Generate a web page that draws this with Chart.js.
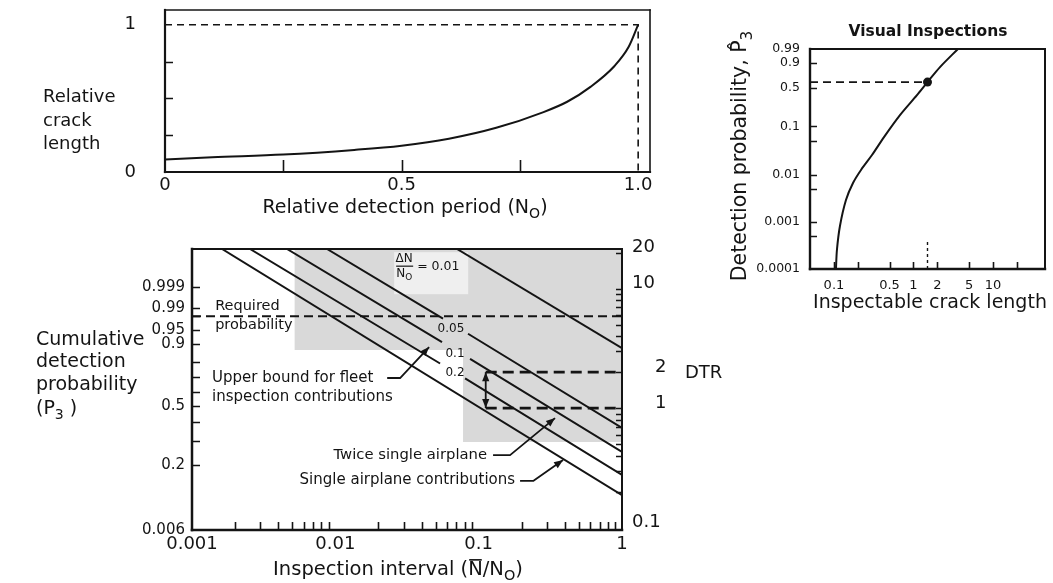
<!DOCTYPE html>
<html>
<head>
<meta charset="utf-8">
<script src="https://cdn.jsdelivr.net/npm/chart.js@4.4.1/dist/chart.umd.min.js"></script>
<style>
  html, body { margin: 0; padding: 0; background: #fff; }
  #wrap { position: relative; width: 1053px; height: 583px; overflow: hidden; background: #fff; }
  #wrap canvas { position: absolute; left: 0; top: 0; }
</style>
</head>
<body>
<div id="wrap">
  <canvas id="crack" width="1053" height="583"></canvas>
  <canvas id="visual" width="1053" height="583"></canvas>
  <canvas id="cumulative" width="1053" height="583"></canvas>
</div>
<script>
// ---------------- relative crack growth ----------------
const periodX      = [0, 0.1, 0.25, 0.4, 0.5, 0.6, 0.7, 0.8, 0.85, 0.9, 0.95, 0.98, 1.0];
const crackLength  = [0.085, 0.10, 0.118, 0.15, 0.179, 0.226, 0.30, 0.407, 0.477, 0.58, 0.72, 0.85, 1.0];
const criticalPeriod = 1.0;
const criticalLength = 1.0;
const periodTicks      = [0, 0.5, 1.0];
const periodTickLabels = ['0', '0.5', '1.0'];
const periodMinor      = [0.25, 0.5, 0.75];
const lengthTicks      = [0, 1];
const lengthTickLabels = ['0', '1'];
const lengthMinor      = [0.25, 0.5, 0.75];

// ---------------- visual inspections ----------------
const crackSize = [0.106, 0.109, 0.119, 0.1416, 0.1736, 0.2188, 0.3008, 0.4257, 0.676, 1.106, 1.5, 2.153, 3.62];
const detectP   = [0.0001, 0.000253, 0.000815, 0.0029, 0.00664, 0.0125, 0.0257, 0.0607, 0.1673, 0.3848, 0.6, 0.851, 0.99];
const inspectableSize = 1.5;
const inspectableP    = 0.6;
const inspectableLowP = [0.0001, 0.0004];
const sizeTicks       = [0.1, 0.5, 1, 2, 5, 10];
const sizeTickLabels  = ['0.1', '0.5', '1', '2', '5', '10'];
const sizeMinor       = [0.1, 0.2, 0.5, 1, 2, 5, 10, 20];
const detectTicks      = [0.0001, 0.001, 0.01, 0.1, 0.5, 0.9, 0.99];
const detectTickLabels = ['0.0001', '0.001', '0.01', '0.1', '0.5', '0.9', '0.99'];
const detectMinor      = [0.0005, 0.001, 0.005, 0.01, 0.05, 0.1, 0.5, 0.9];

// ---------------- cumulative detection probability ----------------
// one entry per line: where it leaves the top edge, its value at N/N0 = 1,
// and the gap left for its ΔN/N0 label
const lineLabels = ['', '0.2', '0.1', '0.05', '0.01'];
const lineTopX   = [0.00162, 0.00254, 0.0046, 0.00875, 0.0706];
const lineEndP   = [0.117, 0.168, 0.249, 0.365, 0.880];
const gapFromX   = [null, 0.0538, 0.0555, 0.0564, null];
const gapFromP   = [null, 0.793, 0.9076, 0.9762, null];
const gapToX     = [null, 0.0804, 0.0871, 0.0843, null];
const gapToP     = [null, 0.693, 0.8214, 0.939, null];
const labelX     = [null, 0.0684, 0.0684, 0.0641, 0.027];
const labelP     = [null, 0.730, 0.849, 0.953, 0.999966];

const requiredP = 0.98;
const dtrLevels = [2, 1];
const dtrFromX  = 0.112;

const shadeX = [0.0052, 1, 1, 0.0778, 0.0778, 0.0052];
const P_TOP    = 0.9999994;
const P_BOTTOM = 0.0616;
const shadeP = [P_TOP, P_TOP, 0.293, 0.293, 0.870, 0.870];

const cumTicks      = [P_BOTTOM, 0.2, 0.5, 0.9, 0.95, 0.99, 0.999];
const cumTickLabels = ['0.006', '0.2', '0.5', '0.9', '0.95', '0.99', '0.999'];
const cumMinor      = [0.2, 0.3, 0.4, 0.5, 0.6, 0.7, 0.8, 0.9, 0.95, 0.98, 0.99, 0.999];
const intervalTicks      = [0.001, 0.01, 0.1, 1];
const intervalTickLabels = ['0.001', '0.01', '0.1', '1'];
const intervalMinor = [];
[0.001, 0.01, 0.1].forEach(d => [2, 3, 4, 5, 6, 7, 8, 9].forEach(k => intervalMinor.push(k * d)));
const dtrTicks      = [0.1, 1, 2, 10, 20];
const dtrTickLabels = ['0.1', '1', '2', '10', '20'];
const dtrMinor = [];
[0.1, 1].forEach(d => [2, 3, 4, 5, 6, 7, 8, 9].forEach(k => dtrMinor.push(k * d)));
dtrMinor.push(1, 10, 20);
const DTR_PER_HAZARD = 1.5;

// ---------------- helpers ----------------
const INK = '#141414';
const FONT = '"DejaVu Sans", "Liberation Sans", sans-serif';
Chart.defaults.font.family = FONT;
Chart.defaults.color = INK;

// Weibull probability paper: ln(-ln(1 - p))
const hz = p => Math.log(-Math.log(1 - p));
const dtrAxis = d => Math.log(d / DTR_PER_HAZARD);

function richText(ctx, segs, x, y, o) {
  const size = o.size || 16, bold = o.bold ? 'bold ' : '';
  const parts = segs.map(s => typeof s === 'string' ? { t: s } : s);
  const fontOf = p => bold + (p.sub ? size * 0.74 : size) + 'px ' + FONT;
  let total = 0;
  const w = parts.map(p => { ctx.font = fontOf(p); const m = ctx.measureText(p.t).width; total += m; return m; });
  ctx.save();
  ctx.translate(x, y);
  if (o.rotate) ctx.rotate(o.rotate);
  ctx.fillStyle = INK; ctx.strokeStyle = INK;
  ctx.textBaseline = 'middle'; ctx.textAlign = 'left';
  let cx = o.align === 'center' ? -total / 2 : o.align === 'right' ? -total : 0;
  parts.forEach((p, i) => {
    ctx.font = fontOf(p);
    ctx.fillText(p.t, cx, p.sub ? size * 0.32 : 0);
    if (p.over) {
      ctx.lineWidth = Math.max(1.2, size / 12);
      ctx.beginPath(); ctx.moveTo(cx + 1, -size * 0.52); ctx.lineTo(cx + w[i] - 1, -size * 0.52); ctx.stroke();
    }
    cx += w[i];
  });
  ctx.restore();
}

function arrowHead(ctx, tip, from) {
  const a = Math.atan2(tip[1] - from[1], tip[0] - from[0]);
  const L = 9, W = 3.6;
  ctx.beginPath();
  ctx.moveTo(tip[0], tip[1]);
  ctx.lineTo(tip[0] - L * Math.cos(a) + W * Math.sin(a), tip[1] - L * Math.sin(a) - W * Math.cos(a));
  ctx.lineTo(tip[0] - L * Math.cos(a) - W * Math.sin(a), tip[1] - L * Math.sin(a) + W * Math.cos(a));
  ctx.closePath(); ctx.fill();
}

// frame, inward tick marks, callouts and free text for one panel
function decor(spec) {
  const pos = (chart, it) => {
    if (it.px !== undefined) return [it.px, it.py];
    const sy = chart.scales[it.axis || 'y'];
    return [chart.scales.x.getPixelForValue(it.x) + (it.dx || 0), sy.getPixelForValue(it.y) + (it.dy || 0)];
  };
  return {
    id: 'decor',
    afterDatasetDraw(chart, args) {
      if (!spec.under || args.index !== spec.under.after) return;
      const ctx = chart.ctx;
      spec.under.boxes.forEach(b => {
        const [x, y] = pos(chart, b);
        ctx.fillStyle = b.color;
        ctx.fillRect(x + b.x0, y + b.y0, b.x1 - b.x0, b.y1 - b.y0);
      });
    },
    afterDatasetsDraw(chart) {
      const ctx = chart.ctx, a = chart.chartArea;
      ctx.save();
      ctx.strokeStyle = INK; ctx.fillStyle = INK; ctx.lineCap = 'butt';
      (spec.ticks || []).forEach(t => {
        const sc = chart.scales[t.scale];
        ctx.lineWidth = t.width || 1.6;
        ctx.beginPath();
        t.values.forEach(v => {
          const p = Math.round(sc.getPixelForValue(v)) + 0.5;
          if (t.side === 'bottom') { ctx.moveTo(p, a.bottom); ctx.lineTo(p, a.bottom - t.len); }
          if (t.side === 'left')   { ctx.moveTo(a.left, p); ctx.lineTo(a.left + t.len, p); }
          if (t.side === 'right')  { ctx.moveTo(a.right, p); ctx.lineTo(a.right - t.len, p); }
        });
        ctx.stroke();
      });
      const f = spec.frame;
      ctx.lineCap = 'square';
      const seg = (x1, y1, x2, y2, lw) => { ctx.lineWidth = lw; ctx.beginPath(); ctx.moveTo(x1, y1); ctx.lineTo(x2, y2); ctx.stroke(); };
      seg(a.left, a.top, a.right, a.top, f.top);
      seg(a.right, a.top, a.right, a.bottom, f.right);
      seg(a.left, a.bottom, a.right, a.bottom, f.bottom);
      seg(a.left, a.top, a.left, a.bottom, f.left);
      ctx.lineCap = 'butt'; ctx.lineJoin = 'round';
      (spec.arrows || []).forEach(ar => {
        const pts = ar.pts.map(p => pos(chart, { x: p[0], y: p[1], axis: ar.axis }));
        ctx.lineWidth = 1.8;
        ctx.beginPath(); ctx.moveTo(pts[0][0], pts[0][1]);
        for (let i = 1; i < pts.length; i++) ctx.lineTo(pts[i][0], pts[i][1]);
        ctx.stroke();
        const n = pts.length;
        arrowHead(ctx, pts[n - 1], pts[n - 2]);
        if (ar.both) arrowHead(ctx, pts[0], pts[1]);
      });
      ctx.restore();
    },
    afterDraw(chart) {
      const ctx = chart.ctx;
      (spec.texts || []).forEach(t => {
        const [x, y] = pos(chart, t);
        richText(ctx, t.segs, x, y, t);
      });
      if (spec.custom) spec.custom(chart, ctx, pos);
    }
  };
}

function fixedAxis(size, horizontal) {
  return s => {
    if (horizontal) s.height = size; else s.width = size;
    s.paddingLeft = 0; s.paddingRight = 0; s.paddingTop = 0; s.paddingBottom = 0;
  };
}
function setTicks(values) { return s => { s.ticks = values.map(v => ({ value: v })); }; }
const noGrid = { display: false, drawTicks: false };

const base = {
  responsive: false, animation: false, devicePixelRatio: 1, events: [],
  plugins: { legend: { display: false }, tooltip: { enabled: false } },
  elements: { point: { radius: 0 }, line: { borderColor: INK, borderWidth: 2, fill: false } }
};

// ---------------- panel 1: relative crack length ----------------
new Chart(document.getElementById('crack'), {
  type: 'line',
  data: {
    datasets: [
      { data: periodX.map((x, i) => ({ x, y: crackLength[i] })), borderColor: INK, borderWidth: 2, cubicInterpolationMode: 'monotone' },
      { data: [{ x: 0, y: criticalLength }, { x: criticalPeriod, y: criticalLength }, { x: criticalPeriod, y: 0 }],
        borderColor: INK, borderWidth: 1.6, borderDash: [7, 5] }
    ]
  },
  options: Object.assign({}, base, {
    layout: { padding: { left: 105, top: 10, right: 403, bottom: 371 } },
    scales: {
      x: { type: 'linear', min: 0, max: 1.025, grid: noGrid, border: { display: false },
           afterBuildTicks: setTicks(periodTicks), afterFit: fixedAxis(40, true),
           ticks: { autoSkip: false, maxRotation: 0, padding: 3, font: { size: 18 }, color: INK,
                    callback: (v, i) => periodTickLabels[i] } },
      y: { type: 'linear', min: 0, max: 1.1, grid: noGrid, border: { display: false },
           afterBuildTicks: setTicks(lengthTicks), afterFit: fixedAxis(60, false),
           ticks: { autoSkip: false, padding: 29, font: { size: 18 }, color: INK,
                    callback: (v, i) => lengthTickLabels[i] } }
    }
  }),
  plugins: [decor({
    frame: { left: 2.2, bottom: 2.2, top: 1.6, right: 1.6 },
    ticks: [
      { scale: 'x', side: 'bottom', values: periodMinor, len: 12 },
      { scale: 'y', side: 'left', values: lengthMinor, len: 8 }
    ],
    texts: [
      { px: 43, py: 97, segs: ['Relative'], size: 18 },
      { px: 43, py: 121, segs: ['crack'], size: 18 },
      { px: 43, py: 144, segs: ['length'], size: 18 },
      { px: 405, py: 208, segs: ['Relative detection period (N', { t: 'O', sub: true }, ')'], size: 19, align: 'center' }
    ]
  })]
});

// ---------------- panel 2: visual inspections ----------------
new Chart(document.getElementById('visual'), {
  type: 'line',
  data: {
    datasets: [
      { data: crackSize.map((x, i) => ({ x, y: hz(detectP[i]) })), borderColor: INK, borderWidth: 2, tension: 0.3 },
      { data: [{ x: 0.05, y: hz(inspectableP) }, { x: inspectableSize, y: hz(inspectableP) }],
        borderColor: INK, borderWidth: 1.6, borderDash: [8, 5] },
      { data: inspectableLowP.map(p => ({ x: inspectableSize, y: hz(p) })),
        borderColor: INK, borderWidth: 1.4, borderDash: [3, 3] },
      { data: [{ x: inspectableSize, y: hz(inspectableP) }], showLine: false,
        pointRadius: 4.5, pointBackgroundColor: INK, pointBorderColor: INK, pointBorderWidth: 0 }
    ]
  },
  options: Object.assign({}, base, {
    layout: { padding: { left: 750, top: 49, right: 8, bottom: 284 } },
    scales: {
      x: { type: 'logarithmic', min: 0.05, max: 45, grid: noGrid, border: { display: false },
           afterBuildTicks: setTicks(sizeTicks), afterFit: fixedAxis(30, true),
           ticks: { autoSkip: false, maxRotation: 0, padding: 9, font: { size: 13 }, color: INK,
                    callback: (v, i) => sizeTickLabels[i] } },
      y: { type: 'linear', min: hz(0.0001), max: hz(0.99), grid: noGrid, border: { display: false },
           afterBuildTicks: setTicks(detectTicks.map(hz)), afterFit: fixedAxis(60, false),
           ticks: { autoSkip: false, padding: 10, font: { size: 12.5 }, color: INK,
                    callback: (v, i) => detectTickLabels[i] } }
    }
  }),
  plugins: [decor({
    frame: { left: 2.4, bottom: 2.4, top: 2, right: 2 },
    ticks: [
      { scale: 'x', side: 'bottom', values: sizeMinor, len: 7 },
      { scale: 'y', side: 'left', values: detectMinor.map(hz), len: 7 }
    ],
    texts: [
      { px: 928, py: 32, segs: ['Visual Inspections'], size: 15.5, bold: true, align: 'center' },
      { px: 741, py: 156, segs: ['Detection probability, P\u0302', { t: '3', sub: true }], size: 20.5, align: 'center', rotate: -Math.PI / 2 },
      { px: 930, py: 303, segs: ['Inspectable crack length'], size: 19, align: 'center' }
    ]
  })]
});

// ---------------- panel 3: cumulative detection probability ----------------
const lineSets = lineTopX.map((x0, i) => {
  const pts = [{ x: x0, y: hz(P_TOP) }];
  if (gapFromX[i] !== null) {
    pts.push({ x: gapFromX[i], y: hz(gapFromP[i]) });
    pts.push({ x: gapToX[i], y: null });
    pts.push({ x: gapToX[i], y: hz(gapToP[i]) });
  }
  pts.push({ x: 1, y: hz(lineEndP[i]) });
  return { data: pts, borderColor: INK, borderWidth: 2, spanGaps: false };
});

// DTR labels 1 and 2 sit further out, beside the "DTR" caption
const dtrLabelIndent = ['', '\u2007\u2007', '\u2007\u2007', '', ''];

new Chart(document.getElementById('cumulative'), {
  type: 'line',
  data: {
    datasets: [
      { data: shadeX.map((x, i) => ({ x, y: hz(shadeP[i]) })), fill: 'shape', backgroundColor: '#d9d9d9',
        borderWidth: 0, borderColor: 'rgba(0,0,0,0)', order: 10 },
      ...lineSets,
      { data: [{ x: 0.001, y: hz(requiredP) }, { x: 1, y: hz(requiredP) }], borderColor: INK, borderWidth: 2, borderDash: [9, 5] },
      ...dtrLevels.map(d => ({ data: [{ x: dtrFromX, y: dtrAxis(d) }, { x: 1, y: dtrAxis(d) }], yAxisID: 'dtr',
        borderColor: INK, borderWidth: 2.6, borderDash: [11, 6] }))
    ]
  },
  options: Object.assign({}, base, {
    layout: { padding: { left: 132, top: 249, right: 371, bottom: 13 } },
    scales: {
      x: { type: 'logarithmic', min: 0.001, max: 1, grid: noGrid, border: { display: false },
           afterBuildTicks: setTicks(intervalTicks), afterFit: fixedAxis(40, true),
           ticks: { autoSkip: false, maxRotation: 0, padding: 4, font: { size: 18 }, color: INK,
                    callback: (v, i) => intervalTickLabels[i] } },
      y: { type: 'linear', position: 'left', min: hz(P_BOTTOM), max: hz(P_TOP), grid: noGrid, border: { display: false },
           afterBuildTicks: setTicks(cumTicks.map(hz)), afterFit: fixedAxis(60, false),
           ticks: { autoSkip: false, padding: 7, font: { size: 15 }, color: INK,
                    callback: (v, i) => cumTickLabels[i] } },
      dtr: { type: 'linear', position: 'right', min: hz(P_BOTTOM), max: hz(P_TOP), grid: noGrid, border: { display: false },
             afterBuildTicks: setTicks(dtrTicks.map(dtrAxis)), afterFit: fixedAxis(60, false),
             ticks: { autoSkip: false, padding: 10, labelOffset: -5, font: { size: 18 }, color: INK,
                      callback: (v, i) => dtrLabelIndent[i] + dtrTickLabels[i] } }
    }
  }),
  plugins: [decor({
    frame: { left: 2.5, bottom: 2.5, top: 2, right: 2 },
    ticks: [
      { scale: 'x', side: 'bottom', values: intervalMinor, len: 8 },
      { scale: 'y', side: 'left', values: cumMinor.map(hz), len: 8 },
      { scale: 'dtr', side: 'right', values: dtrMinor.map(dtrAxis), len: 6 }
    ],
    under: { after: 0, boxes: [{ x: labelX[4], y: hz(labelP[4]), x0: -3, y0: -14, x1: 71, y1: 28, color: '#efefef' }] },
    arrows: [
      { pts: [[0.0230, hz(0.696)], [0.0283, hz(0.696)], [0.0451, hz(0.885)]] },
      { pts: [[0.126, hz(0.236)], [0.1656, hz(0.236)], [0.341, hz(0.423)]] },
      { pts: [[0.1945, hz(0.151)], [0.240, hz(0.151)], [0.388, hz(0.217)]] },
      { pts: [[dtrFromX, dtrAxis(1)], [dtrFromX, dtrAxis(2)]], axis: 'dtr', both: true }
    ],
    texts: [
      { x: 0.00145, y: hz(requiredP), dy: -10, segs: ['Required'], size: 14.5 },
      { x: 0.00145, y: hz(requiredP), dy: 9, segs: ['probability'], size: 14.5 },
      { x: 0.00138, y: hz(0.696), segs: ['Upper bound for fleet'], size: 15 },
      { x: 0.00138, y: hz(0.696), dy: 19, segs: ['inspection contributions'], size: 15 },
      { x: 0.1145, y: hz(0.236), segs: ['Twice single airplane'], size: 14.8, align: 'right' },
      { x: 0.1795, y: hz(0.154), segs: ['Single airplane contributions'], size: 15, align: 'right' },
      ...[1, 2, 3].map(i => ({ x: labelX[i], y: hz(labelP[i]), segs: [lineLabels[i]], size: 12, align: 'center' })),
      { px: 36, py: 340, segs: ['Cumulative'], size: 19 },
      { px: 36, py: 362, segs: ['detection'], size: 19 },
      { px: 36, py: 385, segs: ['probability'], size: 19 },
      { px: 36, py: 409, segs: ['(P', { t: '3', sub: true }, ' )'], size: 19 },
      { px: 685, py: 373, segs: ['DTR'], size: 18 },
      { px: 398, py: 570, segs: ['Inspection interval (', { t: 'N', over: true }, '/N', { t: 'O', sub: true }, ')'], size: 19.5, align: 'center' }
    ],
    custom: (chart, ctx, pos) => {
      // ΔN / N0 = 0.01 fraction label for the top line
      const [x, y] = pos(chart, { x: labelX[4], y: hz(labelP[4]) });
      richText(ctx, ['\u0394N'], x + 7, y - 7, { size: 12, align: 'center' });
      ctx.save(); ctx.strokeStyle = INK; ctx.lineWidth = 1.2;
      ctx.beginPath(); ctx.moveTo(x - 1, y); ctx.lineTo(x + 16, y); ctx.stroke(); ctx.restore();
      richText(ctx, ['N', { t: 'O', sub: true }], x + 7, y + 8, { size: 12, align: 'center' });
      richText(ctx, ['= ' + lineLabels[4]], x + 20, y + 1, { size: 12.5 });
    }
  })]
});
</script>
</body>
</html>
